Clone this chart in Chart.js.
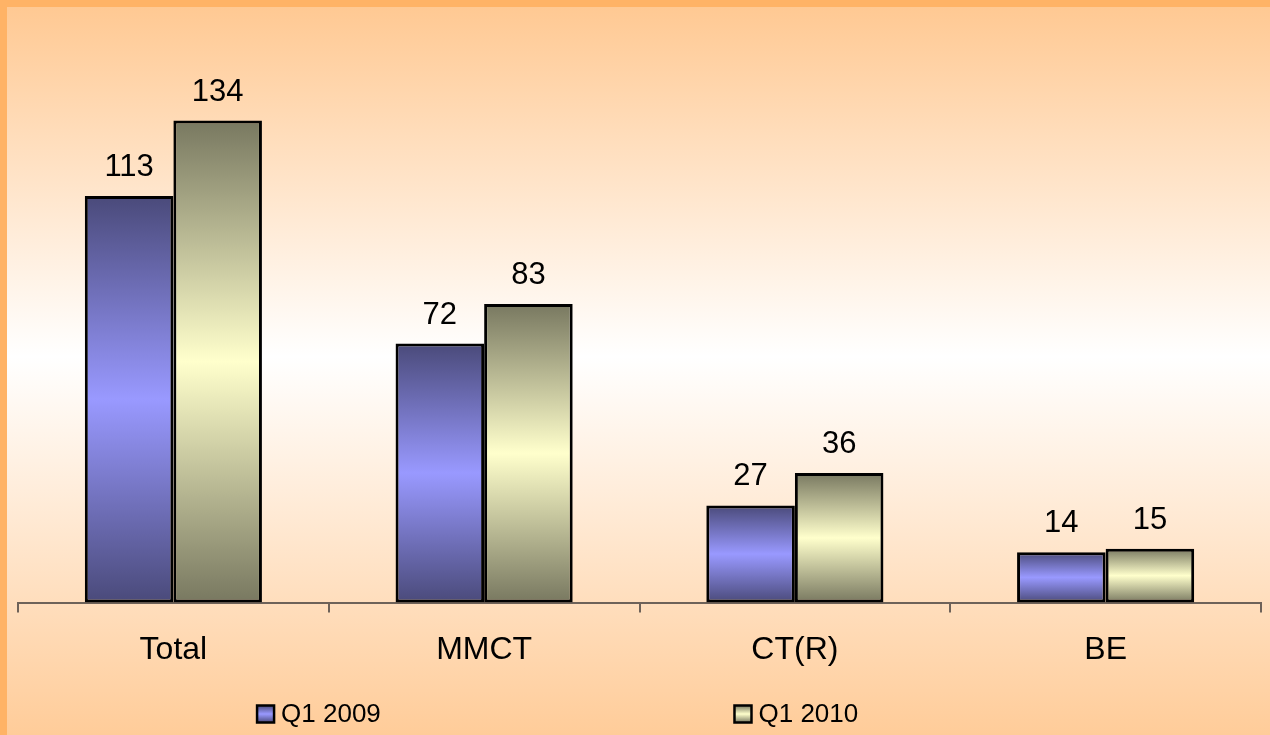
<!DOCTYPE html>
<html>
<head>
<meta charset="utf-8">
<script src="https://cdn.jsdelivr.net/npm/chart.js@4.4.1/dist/chart.umd.min.js"></script>
<style>
    html, body { margin: 0; padding: 0; }
    #wrap {
        position: absolute; left: 0; top: 0;
        width: 1270px; height: 735px;
        box-sizing: border-box;
        border-top: 7px solid #ffb366;
        border-left: 7px solid #ffb366;
        background: linear-gradient(to bottom, #ffc993 0%, #ffffff 48%, #ffcc99 100%);
    }
    canvas { display: block; }
</style>
</head>
<body>
<div id="wrap"><canvas id="salesChart" width="1263" height="728"></canvas></div>
<script>
const categories = ['Total', 'MMCT', 'CT(R)', 'BE'];
const seriesNames = ['Q1 2009', 'Q1 2010'];
const q1_2009 = [113, 72, 27, 14];
const q1_2010 = [134, 83, 36, 15];

const blueDark = '#4a4a7a', blueLight = '#9999ff';
const oliveDark = '#787860', oliveLight = '#ffffcc';

function barGradient(ctx, dark, light) {
    const chart = ctx.chart;
    if (!chart.chartArea || ctx.type !== 'data') return light;
    const y = chart.scales.y;
    const top = y.getPixelForValue(ctx.raw);
    const bottom = y.getPixelForValue(0);
    if (!(bottom > top)) return light;
    const g = chart.ctx.createLinearGradient(0, top, 0, bottom);
    g.addColorStop(0, dark);
    g.addColorStop(0.5, light);
    g.addColorStop(1, dark);
    return g;
}

// value labels above each bar
const valueLabels = {
    id: 'valueLabels',
    afterDatasetsDraw(chart) {
        const c = chart.ctx;
        c.save();
        c.font = '31px "Liberation Sans", Arial, sans-serif';
        c.fillStyle = '#000';
        c.textAlign = 'center';
        c.textBaseline = 'alphabetic';
        chart.data.datasets.forEach((ds, i) => {
            chart.getDatasetMeta(i).data.forEach((bar, j) => {
                c.fillText(ds.data[j], bar.x, bar.y - 20);
            });
        });
        c.restore();
    }
};

// legend spread out along the bottom like the original
const spreadLegend = {
    id: 'spreadLegend',
    afterDraw(chart) {
        const c = chart.ctx;
        const starts = [0.198, 0.576];
        const yMid = chart.height - 21;
        const box = 17;
        c.save();
        c.font = '26px "Liberation Sans", Arial, sans-serif';
        c.textBaseline = 'middle';
        chart.data.datasets.forEach((ds, i) => {
            const x = chart.width * starts[i];
            const g = c.createLinearGradient(0, yMid - box / 2, 0, yMid + box / 2);
            g.addColorStop(0, ds.darkColor);
            g.addColorStop(0.5, ds.lightColor);
            g.addColorStop(1, ds.darkColor);
            c.fillStyle = g;
            c.fillRect(x, yMid - box / 2, box, box);
            c.lineWidth = 2.5;
            c.strokeStyle = '#000';
            c.strokeRect(x, yMid - box / 2, box, box);
            c.fillStyle = '#000';
            c.fillText(ds.label, x + box + 7, yMid + 1);
        });
        c.restore();
    }
};

const ctx = document.getElementById('salesChart').getContext('2d');

const myChart = new Chart(ctx, {
    type: 'bar',
    data: {
        labels: categories,
        datasets: [{
            label: seriesNames[0],
            data: q1_2009,
            darkColor: blueDark,
            lightColor: blueLight,
            backgroundColor: (c) => barGradient(c, blueDark, blueLight),
            borderColor: '#000',
            borderWidth: 3,
            borderSkipped: false,
            categoryPercentage: 0.57,
            barPercentage: 1
        }, {
            label: seriesNames[1],
            data: q1_2010,
            darkColor: oliveDark,
            lightColor: oliveLight,
            backgroundColor: (c) => barGradient(c, oliveDark, oliveLight),
            borderColor: '#000',
            borderWidth: 3,
            borderSkipped: false,
            categoryPercentage: 0.57,
            barPercentage: 1
        }]
    },
    options: {
        responsive: false,
        animation: false,
        layout: {
            padding: { left: 11, right: 9, top: 20, bottom: 48 }
        },
        plugins: {
            legend: { display: false },
            tooltip: { enabled: false }
        },
        scales: {
            x: {
                grid: {
                    offset: true,
                    drawOnChartArea: false,
                    drawTicks: true,
                    tickLength: 10,
                    color: '#6e6259',
                    lineWidth: 2
                },
                border: { color: '#6e6259', width: 2 },
                ticks: {
                    color: '#000',
                    padding: 18,
                    font: { family: '"Liberation Sans", Arial, sans-serif', size: 32 }
                }
            },
            y: {
                display: false,
                min: 0,
                max: 160
            }
        }
    },
    plugins: [valueLabels, spreadLegend]
});
</script>
</body>
</html>
